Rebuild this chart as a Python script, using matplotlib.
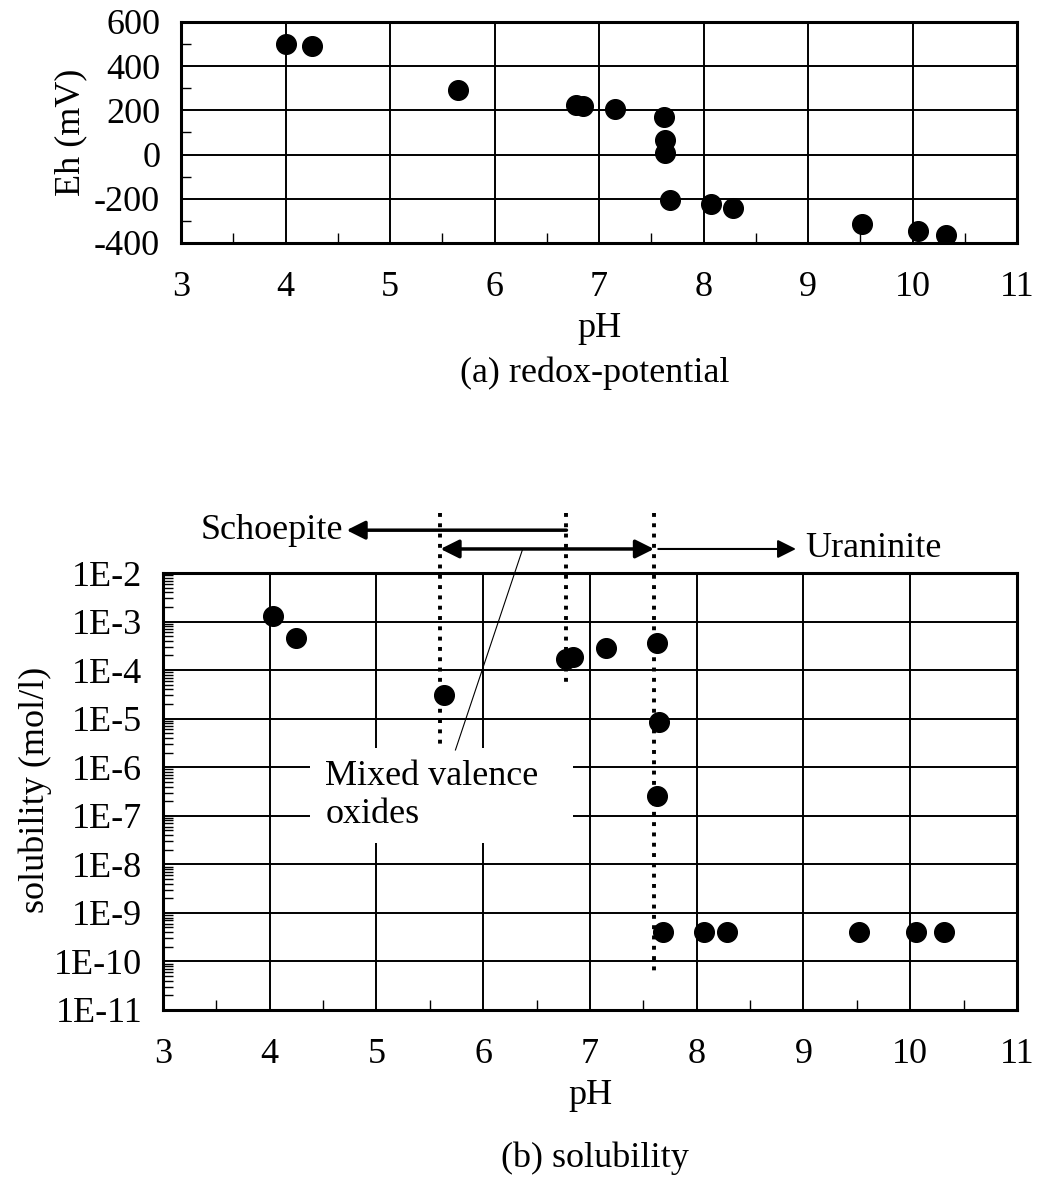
import numpy as np
import matplotlib.pyplot as plt
from matplotlib.ticker import MultipleLocator, FixedLocator, FuncFormatter, LogLocator, NullFormatter
from matplotlib.patches import Rectangle

plt.rcParams['font.family'] = ['Liberation Serif', 'DejaVu Serif']
plt.rcParams['font.size'] = 26
plt.rcParams['axes.unicode_minus'] = False

# pH / Eh data (a)
ph_a = [4.0, 4.25, 5.65, 6.78, 6.85, 7.15, 7.62, 7.63, 7.63, 7.68, 8.07, 8.28, 9.52, 10.05, 10.32]
eh_a = [500, 490, 290, 225, 220, 205, 170, 65, 5, -205, -225, -240, -315, -345, -365]

# pH / solubility data (b)
ph_b = [4.03, 4.25, 5.63, 6.78, 6.84, 7.15, 7.63, 7.65, 7.63, 7.68, 8.07, 8.28, 9.52, 10.05, 10.32]
sol_b = [1.3e-3, 4.5e-4, 3.0e-5, 1.7e-4, 1.9e-4, 2.8e-4, 3.6e-4, 8.5e-6, 2.5e-7,
         4e-10, 4e-10, 4e-10, 4e-10, 4e-10, 4e-10]

x_ticks = [3, 4, 5, 6, 7, 8, 9, 10, 11]
eh_ticks = [-400, -200, 0, 200, 400, 600]
sol_ticks = [1e-11, 1e-10, 1e-9, 1e-8, 1e-7, 1e-6, 1e-5, 1e-4, 1e-3, 1e-2]

fig = plt.figure(figsize=(10.5, 11.8), dpi=100)


def style_axes(ax):
    ax.grid(True, which='major', color='black', linewidth=1.4)
    ax.tick_params(which='major', direction='in', length=0, labelsize=26)
    ax.tick_params(axis='x', which='major', pad=20)
    ax.tick_params(axis='y', which='major', pad=15)
    ax.tick_params(which='minor', direction='in', length=7, width=1)
    for sp in ax.spines.values():
        sp.set_linewidth(2.2)


# ---- (a) redox potential
ax1 = fig.add_axes([0.1724, 0.7941, 0.7962, 0.1873])
ax1.scatter(ph_a, eh_a, s=200, color='black', zorder=3)
ax1.set_xlim(3, 11)
ax1.set_ylim(-400, 600)
ax1.xaxis.set_major_locator(FixedLocator(x_ticks))
ax1.yaxis.set_major_locator(FixedLocator(eh_ticks))
ax1.xaxis.set_minor_locator(MultipleLocator(0.5))
ax1.yaxis.set_minor_locator(MultipleLocator(100))
style_axes(ax1)
ax1.set_xlabel('pH', labelpad=6)
fig.text(71 / 1050, 1 - 132 / 1180, 'Eh (mV)', rotation=90, ha='center', va='center')
fig.text(0.5666, 1 - 373 / 1180, '(a) redox-potential', ha='center', va='center')

# ---- (b) solubility
ax2 = fig.add_axes([0.1552, 0.1441, 0.8133, 0.3703])
ax2.scatter(ph_b, sol_b, s=200, color='black', zorder=4)
ax2.set_yscale('log')
ax2.set_xlim(3, 11)
ax2.set_ylim(1e-11, 1e-2)
ax2.xaxis.set_major_locator(FixedLocator(x_ticks))
ax2.xaxis.set_minor_locator(MultipleLocator(0.5))
ax2.yaxis.set_major_locator(FixedLocator(sol_ticks))
ax2.yaxis.set_major_formatter(FuncFormatter(lambda v, p: '1E%d' % round(np.log10(v))))
ax2.yaxis.set_minor_locator(LogLocator(base=10, subs=np.arange(2, 10), numticks=20))
ax2.yaxis.set_minor_formatter(NullFormatter())
style_axes(ax2)
ax2.set_xlabel('pH', labelpad=6)
fig.text(35 / 1050, 1 - 790 / 1180, 'solubility (mol/l)', rotation=90, ha='center', va='center')
fig.text(0.5666, 1 - 1158 / 1180, '(b) solubility', ha='center', va='center')

tr = ax2.get_xaxis_transform()

# white box behind the "Mixed valence oxides" label
ax2.add_patch(Rectangle((4.38, 0.382), 2.46, 0.218, transform=tr,
                        facecolor='white', edgecolor='none', zorder=2))
ax2.text(4.52, 0.49, 'Mixed valence\noxides', transform=tr, ha='left', va='center',
         linespacing=1.2, zorder=3)

# dotted boundaries
ax2.plot([5.6, 5.6], [1.137, 0.606], transform=tr, color='black', linestyle=':',
         linewidth=2.8, clip_on=False, zorder=3)
ax2.plot([6.78, 6.78], [1.137, 0.74], transform=tr, color='black', linestyle=':',
         linewidth=2.8, clip_on=False, zorder=3)
ax2.plot([7.6, 7.6], [1.137, 0.085], transform=tr, color='black', linestyle=':',
         linewidth=2.8, clip_on=False, zorder=3)

# leader line from label to arrow
ax2.plot([5.74, 6.37], [0.595, 1.055], transform=tr, color='black', linewidth=0.8,
         clip_on=False, zorder=3)

# phase arrows
arrow = dict(arrowstyle='-|>', color='black', linewidth=2.5, mutation_scale=28,
             shrinkA=0, shrinkB=0)
ax2.annotate('', xy=(4.72, 1.098), xytext=(6.78, 1.098), xycoords=tr, textcoords=tr,
             arrowprops=arrow, annotation_clip=False)
ax2.annotate('', xy=(5.6, 1.055), xytext=(7.6, 1.055), xycoords=tr, textcoords=tr,
             arrowprops=dict(arrow, arrowstyle='<|-|>'), annotation_clip=False)
ax2.annotate('', xy=(8.93, 1.055), xytext=(7.64, 1.055), xycoords=tr, textcoords=tr,
             arrowprops=dict(arrow, linewidth=1.5), annotation_clip=False)
ax2.text(4.69, 1.098, 'Schoepite', transform=tr, ha='right', va='center')
ax2.text(9.02, 1.055, 'Uraninite', transform=tr, ha='left', va='center')

fig.savefig('out.png', dpi=100, facecolor='white')
